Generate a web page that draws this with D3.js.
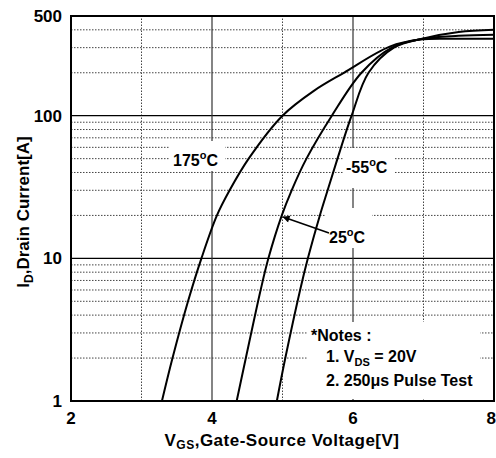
<!DOCTYPE html>
<html>
<head>
<meta charset="utf-8">
<script src="https://cdn.jsdelivr.net/npm/d3@7"></script>
<style>
  body { margin: 0; background: #fff; }
  svg { display: block; font-family: Arial, "Liberation Sans", sans-serif; font-weight: bold; }
</style>
</head>
<body>
<svg id="chart" width="496" height="458"></svg>
<script>
// transfer characteristics: [VGS (V), ID (A)]
const curve175 = [[3.29, 1], [3.44, 2], [3.66, 5], [3.85, 10], [4.07, 20], [4.25, 30], [4.52, 50],
  [5.0, 100], [5.45, 150], [5.87, 200], [6.52, 305], [6.95, 342], [7.5, 346], [8.0, 347]];
const curve25 = [[4.35, 1], [4.48, 2], [4.69, 6], [4.80, 10], [4.99, 20], [5.13, 30], [5.34, 50],
  [5.70, 100], [6.12, 200], [6.55, 300], [7.0, 347], [7.5, 363], [8.0, 369]];
const curveM55 = [[4.92, 1], [5.04, 2], [5.25, 6], [5.36, 10], [5.53, 20], [5.64, 30], [5.78, 50],
  [5.98, 100], [6.22, 200], [6.58, 300], [7.0, 348], [7.5, 386], [8.0, 400]];

const xTicks = [2, 4, 6, 8];
const yTicks = [1, 10, 100, 500];
const xMajor = [4, 6];
const xMinor = [3, 5, 7];
const yMajor = [10, 100];
const yMinor = [2, 3, 4, 5, 6, 7, 8, 9, 20, 30, 40, 50, 60, 70, 80, 90, 200, 300, 400];

const svg = d3.select("#chart");
const x = d3.scaleLinear().domain([2, 8]).range([71, 494]);
const y = d3.scaleLog().domain([1, 500]).range([401, 16]);

const grid = svg.append("g");
const boxes = svg.append("g");
const lines = svg.append("g");
const labels = svg.append("g");

// minor (dotted) grid
grid.selectAll(".ym").data(yMinor).join("line")
  .attr("x1", x(2)).attr("x2", x(8))
  .attr("y1", d => y(d)).attr("y2", d => y(d))
  .attr("stroke", "#444").attr("stroke-width", 1).attr("stroke-dasharray", "1.5,1.5");
grid.selectAll(".xm").data(xMinor).join("line")
  .attr("y1", y(1)).attr("y2", y(500))
  .attr("x1", d => x(d)).attr("x2", d => x(d))
  .attr("stroke", "#444").attr("stroke-width", 1).attr("stroke-dasharray", "1.5,1.5");

// major (solid) grid
grid.selectAll(".yM").data(yMajor).join("line")
  .attr("x1", x(2)).attr("x2", x(8))
  .attr("y1", d => y(d)).attr("y2", d => y(d))
  .attr("stroke", "#000").attr("stroke-width", 1.3);
grid.selectAll(".xM").data(xMajor).join("line")
  .attr("y1", y(1)).attr("y2", y(500))
  .attr("x1", d => x(d)).attr("x2", d => x(d))
  .attr("stroke", "#333").attr("stroke-width", 1.2);

// label boxes hide the grid
function box(x0, y0, x1, y1) {
  boxes.append("rect").attr("x", x0).attr("y", y0)
    .attr("width", x1 - x0).attr("height", y1 - y0).attr("fill", "#fff");
}
box(170, 141, 225, 171);
box(343, 148, 394, 188);
box(326, 208, 372, 248);
box(308, 322, 480, 399);

// frame
svg.append("rect")
  .attr("x", x(2)).attr("y", y(500))
  .attr("width", x(8) - x(2)).attr("height", y(1) - y(500))
  .attr("fill", "none").attr("stroke", "#000").attr("stroke-width", 2);

// curves
const line = d3.line()
  .x(d => x(d[0])).y(d => y(d[1]))
  .curve(d3.curveCatmullRom.alpha(0.5));
[curve175, curve25, curveM55].forEach(c => {
  lines.append("path").attr("d", line(c))
    .attr("fill", "none").attr("stroke", "#000").attr("stroke-width", 2);
});

// tick labels
labels.selectAll(".yt").data(yTicks).join("text")
  .attr("x", 62).attr("y", d => y(d)).attr("dy", "0.36em")
  .attr("text-anchor", "end").attr("font-size", 17)
  .text(d => d);
labels.selectAll(".xt").data(xTicks).join("text")
  .attr("x", (d, i) => i === xTicks.length - 1 ? 496 : x(d)).attr("y", 424)
  .attr("text-anchor", (d, i) => i === xTicks.length - 1 ? "end" : "middle")
  .attr("font-size", 17)
  .text(d => d);

// temperature labels
function tempLabel(tx, ty, num) {
  const t = labels.append("text").attr("x", tx).attr("y", ty).attr("font-size", 16);
  t.append("tspan").text(num);
  t.append("tspan").attr("font-size", 11).attr("dy", -7).text("o");
  t.append("tspan").attr("dy", 7).text("C");
}
tempLabel(173, 166, "175");
tempLabel(346, 173, "-55");
tempLabel(329, 243, "25");

// arrow to 25 C curve
svg.append("defs").append("marker")
  .attr("id", "arr").attr("viewBox", "0 0 10 10")
  .attr("refX", 9).attr("refY", 5)
  .attr("markerWidth", 9).attr("markerHeight", 7)
  .attr("markerUnits", "userSpaceOnUse").attr("orient", "auto")
  .append("path").attr("d", "M0,0L10,5L0,10z").attr("fill", "#000");
labels.append("line")
  .attr("x1", 329).attr("y1", 233).attr("x2", x(5.01)).attr("y2", 217)
  .attr("stroke", "#000").attr("stroke-width", 1.5)
  .attr("marker-end", "url(#arr)");

// notes
const notes = labels.append("g").attr("font-size", 16);
notes.append("text").attr("x", 311).attr("y", 341).text("*Notes :");
const n1 = notes.append("text").attr("x", 326).attr("y", 362);
n1.append("tspan").text("1. V");
n1.append("tspan").attr("font-size", 11).attr("dy", 4).text("DS");
n1.append("tspan").attr("dy", -4).text(" = 20V");
notes.append("text").attr("x", 326).attr("y", 386).text("2. 250\u03bcs Pulse Test");

// axis titles
const xt = labels.append("text").attr("x", 282).attr("y", 446)
  .attr("text-anchor", "middle").attr("font-size", 17).attr("letter-spacing", 0.5);
xt.append("tspan").text("V");
xt.append("tspan").attr("font-size", 12).attr("dy", 3).text("GS");
xt.append("tspan").attr("dy", -3).text(",Gate-Source Voltage[V]");

const yt = labels.append("text")
  .attr("transform", "translate(29,212) rotate(-90)")
  .attr("text-anchor", "middle").attr("font-size", 17);
yt.append("tspan").text("I");
yt.append("tspan").attr("font-size", 12).attr("dy", 4).text("D");
yt.append("tspan").attr("dy", -4).text(",Drain Current[A]");
</script>
</body>
</html>
